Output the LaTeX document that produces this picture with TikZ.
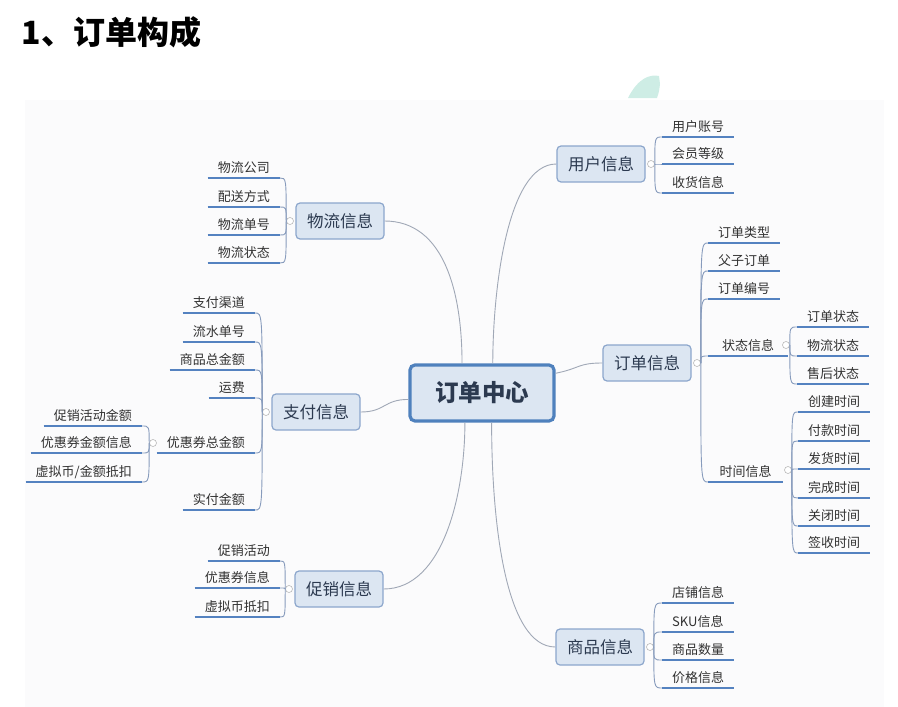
\documentclass[tikz,border=0pt]{standalone}
\usepackage{fontspec}
\setmainfont{Noto Sans CJK SC}
\usepackage{tikz}
\usetikzlibrary{calc}
\definecolor{HubBlue}{RGB}{79,129,189}
\definecolor{BoxFill}{RGB}{220,230,242}
\definecolor{BoxLine}{RGB}{140,166,204}
\definecolor{LineBlue}{RGB}{84,130,192}
\definecolor{TwigGray}{RGB}{135,155,188}
\definecolor{TrunkGray}{RGB}{160,168,182}
\definecolor{InkDark}{RGB}{44,58,80}
\definecolor{LeafInk}{RGB}{50,50,50}
\definecolor{PaperGray}{RGB}{251,251,252}
\definecolor{MintLeaf}{RGB}{206,237,229}

\begin{document}
\begin{tikzpicture}[x=1pt,y=-1pt,
    hubbox/.style={draw=HubBlue,line width=3.2pt,fill=BoxFill,rounded corners=5pt,
                   minimum width=144pt,minimum height=56pt,
                   font=\fontsize{23.5}{26}\selectfont\bfseries,text=InkDark},
    topic/.style={draw=BoxLine,line width=1.2pt,fill=BoxFill,rounded corners=4pt,
                  minimum width=88pt,minimum height=36pt,
                  font=\fontsize{16.5}{18}\selectfont,text=InkDark},
    leaf/.style={inner xsep=10pt,inner ysep=3pt,text height=10pt,text depth=2pt,
                 font=\fontsize{13}{14}\selectfont,text=LeafInk},
    lleaf/.style={leaf,anchor=south east},
    rleaf/.style={leaf,anchor=south west},
    knob/.style={circle,draw=gray!55,fill=white,line width=0.6pt,inner sep=0pt,minimum size=7pt},
    uline/.style={LineBlue,line width=2pt},
    trunk/.style={TrunkGray,line width=0.9pt},
    twig/.style={TwigGray,line width=0.9pt}]

    \useasboundingbox (0,0) rectangle (898,707);
    \fill[MintLeaf] (628,98) .. controls (638,78) and (650,74) .. (659,76)
        -- (660,84) .. controls (659,92) .. (657,98) -- cycle;
    \fill[PaperGray] (25,100) rectangle (884,707);

    \node[font=\fontsize{32}{34}\selectfont\bfseries,anchor=west] (title) at (18,32) {1、订单构成};

    % centre and main topics
    \node[hubbox] (hub) at (482,393) {订单中心};
    \node[topic] (yh) at (601,164) {用户信息};
    \node[topic] (dd) at (647,363) {订单信息};
    \node[topic] (sp) at (600,647) {商品信息};
    \node[topic] (wl) at (340,221) {物流信息};
    \node[topic] (zf) at (316,412) {支付信息};
    \node[topic] (cx) at (339,589) {促销信息};

    \draw[trunk] (hub.124) .. controls +(0,-70) and +(60,0) .. (wl.east);
    \draw[trunk] (hub.70) .. controls +(0,-70) and +(-50,0) .. (yh.west);
    \draw[trunk] (hub.185) .. controls +(-25,0) and +(25,0) .. (zf.east);
    \draw[trunk] (hub.15) .. controls +(25,-5) and +(-25,0) .. (dd.west);
    \draw[trunk] (hub.-120) .. controls +(0,70) and +(60,0) .. (cx.east);
    \draw[trunk] (hub.-72) .. controls +(0,100) and +(-50,0) .. (sp.west);

    % right side
    \foreach \n/\y/\txt in {1/137/用户账号,2/164/会员等级,3/193/收货信息}
      \node[rleaf] (yh\n) at (662,\y) {\txt};
    \foreach \n/\y/\txt in {1/243/订单类型,2/271/父子订单,3/299/订单编号}
      \node[rleaf] (dd\n) at (708,\y) {\txt};
    \node[rleaf,minimum width=80pt] (dd4) at (708,356) {状态信息};
    \node[rleaf,minimum width=75pt] (dd5) at (708,482) {时间信息};
    \foreach \n/\y/\txt in {1/327/订单状态,2/356/物流状态,3/384/售后状态}
      \node[rleaf] (zt\n) at (797,\y) {\txt};
    \foreach \n/\y/\txt in {1/412/创建时间,2/441/付款时间,3/469/发货时间,
                            4/498/完成时间,5/526/关闭时间,6/553/签收时间}
      \node[rleaf] (sj\n) at (798,\y) {\txt};
    \foreach \n/\y/\txt in {1/603/店铺信息,2/632/SKU信息,3/660/商品数量,4/688/价格信息}
      \node[rleaf] (sp\n) at (662,\y) {\txt};

    % left side
    \foreach \n/\y/\txt in {1/178/物流公司,2/207/配送方式,3/235/物流单号,4/263/物流状态}
      \node[lleaf] (wl\n) at (280,\y) {\txt};
    \foreach \n/\y/\txt in {1/313/支付渠道,2/342/流水单号,3/370/商品总金额,
                            4/398/运费,5/453/优惠券总金额,6/510/实付金额}
      \node[lleaf] (zf\n) at (255,\y) {\txt};
    \foreach \n/\y/\txt in {1/426/促销活动金额,2/453/优惠券金额信息,3/482/{虚拟币/金额抵扣}}
      \node[lleaf] (yq\n) at (142,\y) {\txt};
    \foreach \n/\y/\txt in {1/561/促销活动,2/588/优惠券信息,3/617/虚拟币抵扣}
      \node[lleaf] (cx\n) at (280,\y) {\txt};

    % collapse knobs
    \node[knob] (yhk) at (651,164) {};
    \node[knob] (ddk) at (697,363) {};
    \node[knob] (spk) at (650,647) {};
    \node[knob] (ztk) at (786,345) {};
    \node[knob] (sjk) at (788,470) {};
    \node[knob] (wlk) at (290,221) {};
    \node[knob] (zfk) at (266,412) {};
    \node[knob] (yqk) at (153,443) {};
    \node[knob] (cxk) at (289,589) {};

    \foreach \n in {1,2,3}
      \draw[twig] (yhk.east) .. controls (yhk.east |- yh\n.south west) .. (yh\n.south west);
    \foreach \n in {1,...,5}
      \draw[twig] (ddk.east) .. controls (ddk.east |- dd\n.south west) .. (dd\n.south west);
    \foreach \n in {1,2,3}
      \draw[twig] (ztk.east) .. controls (ztk.east |- zt\n.south west) .. (zt\n.south west);
    \foreach \n in {1,...,6}
      \draw[twig] (sjk.east) .. controls (sjk.east |- sj\n.south west) .. (sj\n.south west);
    \foreach \n in {1,...,4}
      \draw[twig] (spk.east) .. controls (spk.east |- sp\n.south west) .. (sp\n.south west);
    \foreach \n in {1,...,4}
      \draw[twig] (wlk.west) .. controls (wlk.west |- wl\n.south east) .. (wl\n.south east);
    \foreach \n in {1,...,6}
      \draw[twig] (zfk.west) .. controls (zfk.west |- zf\n.south east) .. (zf\n.south east);
    \foreach \n in {1,2,3}
      \draw[twig] (yqk.west) .. controls (yqk.west |- yq\n.south east) .. (yq\n.south east);
    \foreach \n in {1,2,3}
      \draw[twig] (cxk.west) .. controls (cxk.west |- cx\n.south east) .. (cx\n.south east);

    \foreach \n in {yh1,yh2,yh3,dd1,dd2,dd3,dd4,dd5,zt1,zt2,zt3,sj1,sj2,sj3,sj4,sj5,sj6,
                    sp1,sp2,sp3,sp4,wl1,wl2,wl3,wl4,zf1,zf2,zf3,zf4,zf5,zf6,yq1,yq2,yq3,cx1,cx2,cx3}
      \draw[uline] (\n.south west) -- (\n.south east);
  \end{tikzpicture}
\end{document}
